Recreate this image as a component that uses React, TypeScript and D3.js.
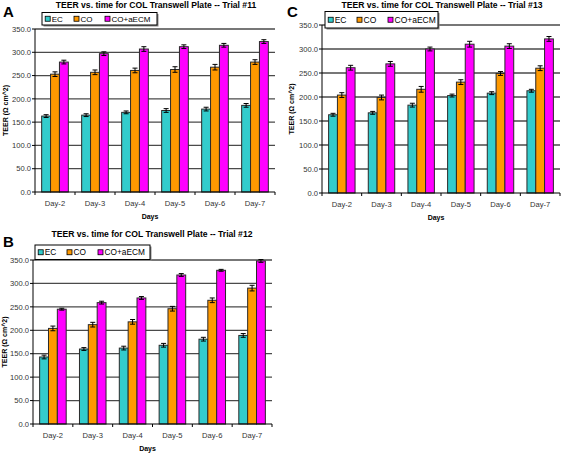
import React from "react";
import * as d3 from "d3";

const days = ["Day-2", "Day-3", "Day-4", "Day-5", "Day-6", "Day-7"];
const seriesNames = ["EC", "CO", "CO+aECM"];
const seriesColors = ["#33CCCC", "#FF9900", "#FF00FF"];
const yTicks = [0, 50, 100, 150, 200, 250, 300, 350];

// Trial #11 (A)
const t11EC = [163, 165, 171, 175, 178, 186];
const t11CO = [253, 257, 261, 263, 268, 279];
const t11ECM = [279, 297, 307, 312, 315, 323];
const t11ECerr = [3, 3, 3, 4, 4, 4];
const t11COerr = [5, 5, 5, 6, 6, 5];
const t11ECMerr = [4, 4, 5, 4, 4, 4];

// Trial #12 (B)
const t12EC = [143, 160, 162, 168, 181, 189];
const t12CO = [204, 212, 218, 246, 264, 290];
const t12ECM = [245, 259, 269, 318, 328, 348];
const t12ECerr = [4, 3, 4, 4, 4, 4];
const t12COerr = [5, 5, 5, 5, 5, 6];
const t12ECMerr = [2, 3, 3, 3, 2, 3];

// Trial #13 (C)
const t13EC = [163, 167, 183, 203, 208, 213];
const t13CO = [204, 199, 216, 231, 249, 260];
const t13ECM = [261, 269, 300, 310, 306, 321];
const t13ECerr = [3, 3, 4, 3, 3, 3];
const t13COerr = [5, 5, 6, 5, 4, 5];
const t13ECMerr = [5, 5, 4, 6, 5, 5];

const FONT = "'Liberation Sans', Arial, Helvetica, sans-serif";

type PanelProps = {
  letter: string;
  title: string;
  values: number[][];
  errors: number[][];
  px0: number;
  px1: number;
  py0: number; // y of 0
  py1: number; // y of 350
  titleX: number;
  titleY: number;
  letterX: number;
  letterY: number;
  legX: number;
  legY: number;
  legW: number;
  legH: number;
  legFont: number;
  yLabelX: number;
};

function Panel(p: PanelProps) {
  const x = d3.scaleBand<string>().domain(days).range([p.px0, p.px1]).paddingInner(1 / 3).paddingOuter(1 / 6);
  const xi = d3.scaleBand<number>().domain([0, 1, 2]).range([0, x.bandwidth()]);
  const y = d3.scaleLinear().domain([0, 350]).range([p.py0, p.py1]);
  const step = x.step();
  const legItemX = [3.2, 32, 63];
  return (
    <g>
      <text x={p.letterX} y={p.letterY} fontFamily={FONT} fontWeight="bold" fontSize={15} fill="#000">
        {p.letter}
      </text>
      <text x={p.titleX} y={p.titleY} fontFamily={FONT} fontWeight="bold" fontSize={8.6} textAnchor="middle" fill="#000">
        {p.title}
      </text>
      {/* gridlines */}
      {yTicks.slice(1).map((t) => (
        <line key={"g" + t} x1={p.px0} x2={p.px1} y1={y(t)} y2={y(t)} stroke="#4a4a4a" strokeWidth={1.3} />
      ))}
      {/* bars */}
      {days.map((d, i) => (
        <g key={d}>
          {p.values.map((vals, s) => {
            const bx = (x(d) as number) + (xi(s) as number);
            const v = vals[i];
            const e = p.errors[s][i];
            const cx = bx + xi.bandwidth() / 2;
            return (
              <g key={s}>
                <rect
                  x={bx}
                  y={y(v)}
                  width={xi.bandwidth()}
                  height={y(0) - y(v)}
                  fill={seriesColors[s]}
                  stroke="#2a2a2a"
                  strokeWidth={1}
                />
                <line x1={cx} x2={cx} y1={y(v + e)} y2={y(v - e)} stroke="#000" strokeWidth={1} />
                <line x1={cx - 2.5} x2={cx + 2.5} y1={y(v + e)} y2={y(v + e)} stroke="#000" strokeWidth={1} />
                <line x1={cx - 2.5} x2={cx + 2.5} y1={y(v - e)} y2={y(v - e)} stroke="#000" strokeWidth={1} />
              </g>
            );
          })}
        </g>
      ))}
      {/* axes */}
      <line x1={p.px0} x2={p.px0} y1={p.py1} y2={p.py0 + 3} stroke="#000" strokeWidth={1} />
      <line x1={p.px0} x2={p.px1} y1={p.py0} y2={p.py0} stroke="#000" strokeWidth={1} />
      {yTicks.map((t) => (
        <g key={"t" + t}>
          <line x1={p.px0 - 3} x2={p.px0} y1={y(t)} y2={y(t)} stroke="#000" strokeWidth={1} />
          <text x={p.px0 - 4} y={y(t) + 2.7} fontFamily={FONT} fontSize={7.6} textAnchor="end" fill="#333">
            {t.toFixed(1)}
          </text>
        </g>
      ))}
      {days.map((d, i) => (
        <g key={"x" + d}>
          <line
            x1={p.px0 + step * (i + 1)}
            x2={p.px0 + step * (i + 1)}
            y1={p.py0}
            y2={p.py0 + 3}
            stroke="#000"
            strokeWidth={1}
          />
          <text
            x={(x(d) as number) + x.bandwidth() / 2}
            y={p.py0 + 14}
            fontFamily={FONT}
            fontSize={7.6}
            textAnchor="middle"
            fill="#333"
          >
            {d}
          </text>
        </g>
      ))}
      <text
        x={(p.px0 + p.px1) / 2 - 5}
        y={p.py0 + 27}
        fontFamily={FONT}
        fontWeight="bold"
        fontSize={7}
        textAnchor="middle"
        fill="#000"
      >
        Days
      </text>
      <text
        transform={`translate(${p.yLabelX},${(p.py0 + p.py1) / 2}) rotate(-90)`}
        fontFamily={FONT}
        fontWeight="bold"
        fontSize={7}
        textAnchor="middle"
        fill="#000"
      >
        TEER (Ω cm^2)
      </text>
      {/* legend */}
      <rect x={p.legX + 1.5} y={p.legY + 1.5} width={p.legW} height={p.legH} fill="#888" />
      <rect x={p.legX} y={p.legY} width={p.legW} height={p.legH} fill="#fff" stroke="#000" strokeWidth={1} />
      {seriesNames.map((n, s) => (
        <g key={n}>
          <rect
            x={p.legX + legItemX[s]}
            y={p.legY + p.legH / 2 - 2.5}
            width={5}
            height={5}
            fill={seriesColors[s]}
            stroke="#000"
            strokeWidth={0.8}
          />
          <text
            x={p.legX + legItemX[s] + 6.5}
            y={p.legY + p.legH / 2 + 3}
            fontFamily={FONT}
            fontSize={p.legFont}
            fill="#000"
          >
            {n}
          </text>
        </g>
      ))}
    </g>
  );
}

export default function App() {
  return (
    <svg
      width={561}
      height={453}
      style={{ position: "absolute", left: 0, top: 0, background: "#fff" }}
    >
      <rect x={0} y={0} width={561} height={453} fill="#fff" />
      <Panel
        letter="A"
        title="TEER vs. time for COL Transwell Plate -- Trial #11"
        values={[t11EC, t11CO, t11ECM]}
        errors={[t11ECerr, t11COerr, t11ECMerr]}
        px0={35}
        px1={275}
        py0={192}
        py1={29}
        titleX={156}
        titleY={8}
        letterX={3}
        letterY={17}
        legX={42}
        legY={12.5}
        legW={115}
        legH={12.5}
        legFont={8}
        yLabelX={8}
      />
      <Panel
        letter="C"
        title="TEER vs. time for COL Transwell Plate -- Trial #13"
        values={[t13EC, t13CO, t13ECM]}
        errors={[t13ECerr, t13COerr, t13ECMerr]}
        px0={322}
        px1={560}
        py0={193}
        py1={25}
        titleX={442}
        titleY={8}
        letterX={287}
        letterY={17}
        legX={325}
        legY={11.5}
        legW={113}
        legH={16.5}
        legFont={8.5}
        yLabelX={294}
      />
      <Panel
        letter="B"
        title="TEER vs. time for COL Transwell Plate -- Trial #12"
        values={[t12EC, t12CO, t12ECM]}
        errors={[t12ECerr, t12COerr, t12ECMerr]}
        px0={33}
        px1={272}
        py0={424}
        py1={260}
        titleX={152}
        titleY={237}
        letterX={3}
        letterY={247}
        legX={35}
        legY={245}
        legW={115}
        legH={14.5}
        legFont={8.3}
        yLabelX={7}
      />
    </svg>
  );
}
